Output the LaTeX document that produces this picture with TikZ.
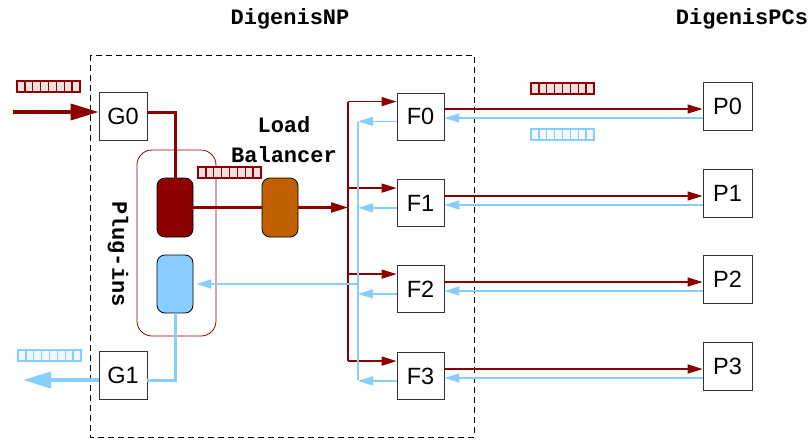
\documentclass[tikz,border=0pt]{standalone}
\usepackage{fontspec}
\setmainfont{Liberation Sans}
\setmonofont{Liberation Mono}
\usetikzlibrary{arrows.meta,calc}
\definecolor{dred}{RGB}{140,0,0}
\definecolor{lblue}{RGB}{135,206,255}
\definecolor{lborange}{RGB}{192,96,0}
\newcommand\drawpacket[3]{%
  \draw[#3, line width=1.3pt, fill=#3!12] (#1,#2) rectangle ++(63,11);
  \foreach \i in {1,...,7} \draw[#3, line width=1.3pt] ({#1+\i*7.875},#2) -- ++(0,11);
}
\begin{document}
\begin{tikzpicture}[x=1pt,y=-1pt,
  box/.style={draw=black!80, line width=0.8pt, minimum width=48pt, minimum height=48pt, inner sep=0pt, font=\fontsize{23.5}{26}\selectfont},
  ttcap/.style={font=\ttfamily\bfseries\fontsize{22}{30}\selectfont, inner sep=0pt},
  plugbox/.style={draw=black, line width=0.8pt, rounded corners=8pt, minimum width=36pt, minimum height=59pt, inner sep=0pt},
  redthick/.style={draw=dred, line width=3pt},
  redthin/.style={draw=dred, line width=1.5pt},
  bluethin/.style={draw=lblue, line width=1.5pt},
  bluethick/.style={draw=lblue, line width=3pt},
  tip/.style={-{Triangle[length=15pt,width=9pt]}},
  bigtip/.style={-{Triangle[length=28pt,width=16pt]}},
]
\useasboundingbox (0,0) rectangle (812,440);

% NP frame
\draw[line width=0.8pt, dash pattern=on 6pt off 4pt] (90,55) rectangle (474,437);

% titles
\node[ttcap] (tnp) at (290,19) {DigenisNP};
\node[ttcap] (tpc) at (742,19) {DigenisPCs};

% plug-ins container
\node[draw=dred, line width=0.8pt, rounded corners=15pt, minimum width=79pt, minimum height=186pt] (plugins) at (176.5,243) {};
\node[ttcap, rotate=-90] (plbl) at (118,254) {Plug-ins};

% boxes
\node[box] (G0) at (123,116) {G0};
\node[box] (G1) at (123,375) {G1};
\foreach \n/\y in {0/116.5,1/203,2/289,3/376} \node[box, minimum width=47pt, minimum height=47pt] (F\n) at (420.5,\y) {F\n};
\foreach \n/\y in {0/106,1/193,2/279,3/366} \node[box, minimum width=49pt] (P\n) at (727.5,\y) {P\n};

\node[plugbox, fill=dred] (dr) at (175,207.5) {};
\node[plugbox, fill=lborange] (lb) at (280,207.5) {};
\node[plugbox, fill=lblue, minimum height=58pt] (bb) at (175,284) {};

\node[ttcap, align=center] (lbl) at (284,140) {Load\\Balancer};

% input / G0 path
\coordinate (inL) at (13,112);
\draw[redthick, line width=3.5pt, bigtip] (inL) -- (inL -| G0.west);
\draw[redthick] (inL -| G0.east) -| (dr.north);
\draw[redthick] (dr.east) -- (lb.west);

% red bus
\coordinate (rtop) at (348,102);
\coordinate (rbot) at (348,361);
\draw[redthin, line width=2pt] (rtop) -- (rbot);
\draw[redthin, line width=2.2pt, -{Triangle[length=17pt,width=10pt]}] (lb.east) -- (lb.east -| rtop);
\foreach \n in {0,1,2,3} {
  \coordinate (f\n in) at ($(F\n.north west)+(0,9)$);
  \draw[redthin, tip] (rtop |- f\n in) -- (f\n in);
}

% blue bus
\coordinate (btop) at (358,122);
\coordinate (bbot) at (358,380);
\draw[bluethin] (btop) -- (bbot);
\foreach \n in {0,1,2,3} {
  \coordinate (f\n out) at ($(F\n.south west)+(0,-19)$);
  \draw[bluethin, tip] (f\n out) -- (f\n out -| btop);
}
\draw[bluethin, tip] (btop |- bb.east) -- ($(bb.east)+(3,0)$);

% blue to G1 and out
\coordinate (g1r) at ($(G1.east)+(0,5)$);
\coordinate (g1l) at ($(G1.west)+(0,5)$);
\coordinate (outL) at (23,380);
\draw[bluethick] (bb.south) |- (g1r);
\draw[bluethick, line width=4pt, bigtip] (g1l) -- (outL);

% F <-> P
\foreach \n in {0,1,2,3} {
  \coordinate (pr\n) at ($(P\n.west)+(0,3)$);
  \coordinate (pb\n) at ($(P\n.west)+(0,12)$);
  \draw[redthin, line width=1.3pt, tip] (F\n.east |- pr\n) -- (pr\n);
  \draw[bluethin, line width=1.2pt, tip] (pb\n) -- (pb\n -| F\n.east);
}

% packets
\drawpacket{17}{81}{dred}
\drawpacket{198}{167}{dred}
\drawpacket{18}{350}{lblue}
\drawpacket{531}{83}{dred}
\drawpacket{531}{129}{lblue}
\end{tikzpicture}
\end{document}
